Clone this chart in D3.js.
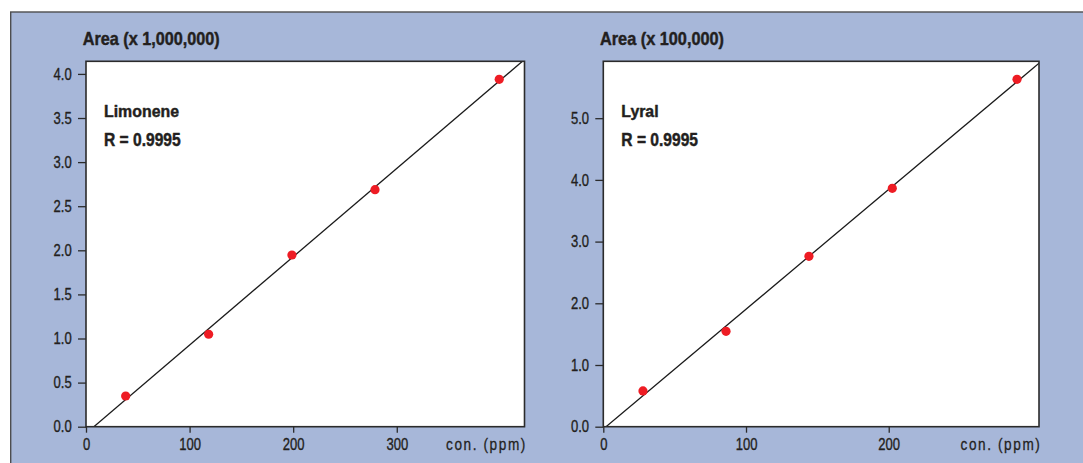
<!DOCTYPE html>
<html>
<head>
<meta charset="utf-8">
<script src="https://cdn.jsdelivr.net/npm/d3@7"></script>
<style>
  html, body { margin: 0; padding: 0; background: #ffffff; }
  svg { display: block; }
  text { font-family: "Liberation Sans", Arial, sans-serif; fill: #231f20; }
</style>
</head>
<body>
<svg id="chart" width="1083" height="463"></svg>
<script>
// Limonene calibration: concentration (ppm) vs. peak area (x 1,000,000)
const limoneneConc = [38.3, 118.4, 198.8, 279.0, 398.9];
const limoneneArea = [0.348, 1.048, 1.947, 2.687, 3.939];
const limoneneXTicks = [0, 100, 200, 300];
const limoneneYTicks = [0.0, 0.5, 1.0, 1.5, 2.0, 2.5, 3.0, 3.5, 4.0];

// Lyral calibration: concentration (ppm) vs. peak area (x 100,000)
const lyralConc = [27.8, 86.0, 144.1, 202.5, 289.9];
const lyralArea = [0.579, 1.546, 2.762, 3.864, 5.630];
const lyralXTicks = [0, 100, 200];
const lyralYTicks = [0.0, 1.0, 2.0, 3.0, 4.0, 5.0];

const compoundNames = ["Limonene", "Lyral"];
const areaTitles = ["Area (x 1,000,000)", "Area (x 100,000)"];
const correlationLabels = ["R = 0.9995", "R = 0.9995"];
const concLabel = "con. (ppm)";

// Panel geometry and axis extents
const panels = [
  { conc: limoneneConc, area: limoneneArea, xTicks: limoneneXTicks, yTicks: limoneneYTicks,
    xMax: 423.3, yMax: 4.143, left: 86, right: 524.5, top: 61.3, bottom: 426.7,
    name: compoundNames[0], title: areaTitles[0], rLabel: correlationLabels[0],
    titleW: 137, nameW: 75, rW: 76.7 },
  { conc: lyralConc, area: lyralArea, xTicks: lyralXTicks, yTicks: lyralYTicks,
    xMax: 305.3, yMax: 5.922, left: 603.3, right: 1039, top: 61.3, bottom: 426.7,
    name: compoundNames[1], title: areaTitles[1], rLabel: correlationLabels[1],
    titleW: 124, nameW: 37.3, rW: 76.7 }
];

// Condensed lettering: squeeze the glyphs horizontally
function condense(sel, factor) {
  sel.each(function () {
    const len = this.getComputedTextLength();
    d3.select(this).attr("textLength", len * factor).attr("lengthAdjust", "spacingAndGlyphs");
  });
}
function fitWidth(sel, width) {
  sel.attr("textLength", width).attr("lengthAdjust", "spacingAndGlyphs");
}
// a thin outline in the text colour gives the heavier print weight
function heavy(sel, w) {
  sel.attr("stroke", "#231f20").attr("stroke-width", w).attr("stroke-linejoin", "round");
}

const svg = d3.select("#chart");

// Blue backdrop with a frame along its top and left edges
svg.append("rect")
  .attr("x", 10.7).attr("y", 12)
  .attr("width", 1083).attr("height", 463)
  .attr("fill", "#a7b7d9")
  .attr("stroke", "#4d4d4f").attr("stroke-width", 1.4);

// Least-squares straight line through the calibration points
function linearFit(xs, ys) {
  const mx = d3.mean(xs), my = d3.mean(ys);
  let sxy = 0, sxx = 0;
  xs.forEach((x, i) => { sxy += (x - mx) * (ys[i] - my); sxx += (x - mx) * (x - mx); });
  const slope = sxy / sxx;
  return { slope, intercept: my - slope * mx };
}

panels.forEach((p, idx) => {
  const x = d3.scaleLinear().domain([0, p.xMax]).range([p.left, p.right]);
  const y = d3.scaleLinear().domain([0, p.yMax]).range([p.bottom, p.top]);
  const g = svg.append("g");

  // plotting area
  g.append("rect")
    .attr("x", p.left).attr("y", p.top)
    .attr("width", p.right - p.left).attr("height", p.bottom - p.top)
    .attr("fill", "#ffffff");

  const clipId = "plot-clip-" + idx;
  svg.append("defs").append("clipPath").attr("id", clipId)
    .append("rect")
    .attr("x", p.left).attr("y", p.top)
    .attr("width", p.right - p.left).attr("height", p.bottom - p.top);

  // fitted calibration line, from the zero-area crossing to the plot edge
  const fit = linearFit(p.conc, p.area);
  const x0 = -fit.intercept / fit.slope;
  const fitLine = d3.line().x(d => x(d[0])).y(d => y(d[1]));
  g.append("path")
    .attr("clip-path", `url(#${clipId})`)
    .attr("d", fitLine([[x0, 0], [p.xMax, fit.slope * p.xMax + fit.intercept]]))
    .attr("fill", "none")
    .attr("stroke", "#1a1a1a")
    .attr("stroke-width", 1.3);

  // measured points
  g.selectAll("circle.pt")
    .data(p.conc.map((c, i) => [c, p.area[i]]))
    .join("circle")
    .attr("class", "pt")
    .attr("cx", d => x(d[0]))
    .attr("cy", d => y(d[1]))
    .attr("r", 4.6)
    .attr("fill", "#ee1c24");

  // frame around the plot
  g.append("rect")
    .attr("x", p.left).attr("y", p.top)
    .attr("width", p.right - p.left).attr("height", p.bottom - p.top)
    .attr("fill", "none")
    .attr("stroke", "#2b2b2b").attr("stroke-width", 1.6);

  // axes
  const yAxis = d3.axisLeft(y)
    .tickValues(p.yTicks)
    .tickFormat(d3.format(".1f"))
    .tickSize(8).tickSizeOuter(0).tickPadding(6.3);
  const yg = g.append("g").attr("transform", `translate(${p.left},0)`).call(yAxis);

  const xAxis = d3.axisBottom(x)
    .tickValues(p.xTicks)
    .tickFormat(d3.format("d"))
    .tickSize(6).tickSizeOuter(0).tickPadding(5.6);
  const xg = g.append("g").attr("transform", `translate(0,${p.bottom})`).call(xAxis);

  [yg, xg].forEach(ax => {
    ax.select(".domain").remove();
    ax.selectAll(".tick line").attr("stroke", "#2b2b2b").attr("stroke-width", 1.3);
    ax.selectAll(".tick text")
      .attr("fill", "#231f20")
      .style("font-size", "16.3px")
      .style("font-family", '"Liberation Sans", Arial, sans-serif')
      .call(condense, 0.8)
      .call(heavy, 0.35);
  });

  // labels
  g.append("text")
    .attr("x", p.left - 3.3).attr("y", 45)
    .style("font-size", "18.5px").style("font-weight", "bold")
    .text(p.title)
    .call(fitWidth, p.titleW)
    .call(heavy, 0.45);

  g.append("text")
    .attr("x", p.left + 18).attr("y", 116.5)
    .style("font-size", "17px").style("font-weight", "bold")
    .text(p.name)
    .call(fitWidth, p.nameW)
    .call(heavy, 0.45);

  g.append("text")
    .attr("x", p.left + 18).attr("y", 146)
    .style("font-size", "17.5px").style("font-weight", "bold")
    .text(p.rLabel)
    .call(fitWidth, p.rW)
    .call(heavy, 0.45);

  // axis caption: narrow glyphs set with open letter spacing
  g.append("text")
    .attr("transform", `translate(${p.right + 1.5 - 80},450) scale(0.8,1)`)
    .style("font-size", "17px")
    .style("letter-spacing", "2px")
    .text(concLabel)
    .call(heavy, 0.3);
});
</script>
</body>
</html>
